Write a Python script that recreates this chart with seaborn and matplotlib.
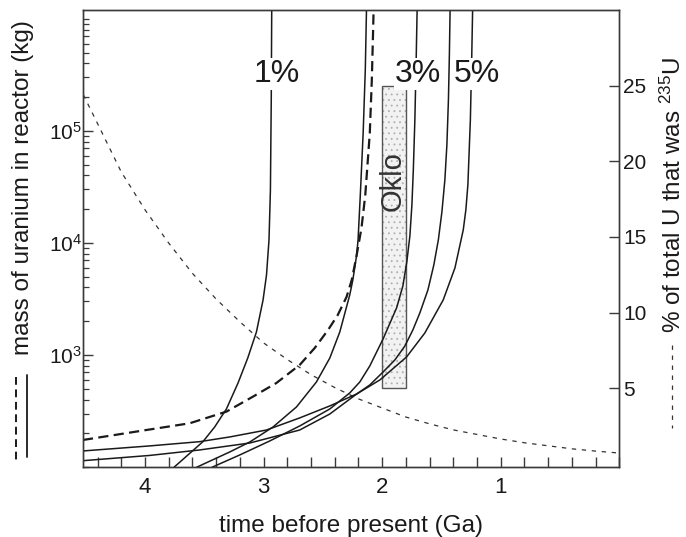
import matplotlib
matplotlib.use("Agg")
import numpy as np
import pandas as pd
import seaborn as sns
import matplotlib.pyplot as plt
from matplotlib.ticker import FixedLocator, MultipleLocator, LogLocator, NullFormatter
from matplotlib.lines import Line2D

# ---------------- data ----------------
# time before present (Ga) and log10 of uranium mass in reactor (kg)
t_1pct = [3.775, 3.749, 3.623, 3.511, 3.412, 3.313, 3.215, 3.133, 3.060, 3.004, 2.975,
          2.954, 2.942, 2.935, 2.931, 2.929]
logm_1pct = [1.973, 2.003, 2.121, 2.226, 2.357, 2.518, 2.750, 2.973, 3.205, 3.491, 3.714,
             4.027, 4.473, 5.277, 6.080, 6.348]

t_A = [3.623, 3.553, 3.285, 3.116, 2.920, 2.722, 2.554, 2.441, 2.357, 2.273, 2.247, 2.216,
       2.203, 2.184, 2.160, 2.142, 2.132, 2.128]
logm_A = [1.964, 2.003, 2.134, 2.223, 2.357, 2.536, 2.759, 2.973, 3.205, 3.536, 3.670, 3.884,
          4.027, 4.429, 4.982, 5.545, 6.080, 6.438]

t_dashed = [4.523, 3.988, 3.623, 3.313, 3.089, 2.891, 2.695, 2.568, 2.456, 2.374, 2.300,
            2.256, 2.216, 2.174, 2.142, 2.104, 2.087, 2.076, 2.070]
logm_dashed = [2.241, 2.330, 2.390, 2.494, 2.628, 2.750, 2.911, 3.0625, 3.223, 3.357, 3.518,
               3.670, 3.884, 4.134, 4.429, 4.982, 5.455, 5.902, 6.170]

t_B = [3.496, 3.429, 3.201, 2.948, 2.695, 2.441, 2.273, 2.188, 2.104, 1.992, 1.878, 1.825,
       1.792, 1.766, 1.749, 1.737, 1.724, 1.713, 1.705, 1.702]
logm_B = [1.955, 2.000, 2.107, 2.232, 2.366, 2.518, 2.661, 2.759, 2.902, 3.143, 3.420, 3.616,
          3.830, 4.0625, 4.339, 4.652, 5.098, 5.634, 6.080, 6.438]

t_C = [4.523, 3.960, 3.538, 3.116, 2.695, 2.441, 2.214, 2.104, 1.992, 1.893, 1.808, 1.741,
       1.682, 1.614, 1.564, 1.526, 1.496, 1.471, 1.454, 1.441, 1.433, 1.427, 1.424]
logm_C = [2.056, 2.103, 2.152, 2.214, 2.330, 2.473, 2.652, 2.732, 2.848, 2.955, 3.080, 3.223,
          3.375, 3.580, 3.804, 4.027, 4.277, 4.5625, 4.875, 5.277, 5.679, 6.080, 6.438]

t_D = [4.523, 3.960, 3.538, 3.285, 2.975, 2.695, 2.441, 2.214, 2.019, 1.794, 1.640, 1.485,
       1.386, 1.316, 1.294, 1.277, 1.256, 1.245, 1.237, 1.235]
logm_D = [2.143, 2.188, 2.226, 2.268, 2.330, 2.438, 2.545, 2.652, 2.777, 2.982, 3.196, 3.491,
          3.777, 4.116, 4.295, 4.518, 5.098, 5.634, 6.080, 6.438]

# % of total U that was 235U (right axis)
t_pct = [4.52, 4.4, 4.2, 4.0, 3.8, 3.6, 3.4, 3.2, 3.0, 2.8, 2.6, 2.4, 2.2, 2.0,
         1.8, 1.6, 1.4, 1.2, 1.0, 0.8, 0.6, 0.4, 0.2, 0.0]
pct_235 = [24.4, 22.5, 19.3, 16.8, 14.6, 12.6, 10.9, 9.4, 8.0, 6.9, 5.9, 5.05, 4.3, 3.7,
           3.1, 2.65, 2.25, 1.95, 1.65, 1.4, 1.2, 1.0, 0.85, 0.72]

# Oklo box (time range, % range)
oklo_t = [1.8, 2.0]
oklo_pct = [5.0, 25.0]

# curve labels
label_text = ["1%", "3%", "5%"]
label_t = [2.889, 1.699, 1.202]
label_m = [2.74e5, 2.74e5, 2.74e5]

x_ticks = [4, 3, 2, 1]
y_ticks = [1e3, 1e4, 1e5]
y_ticklabels = ["$10^3$", "$10^4$", "$10^5$"]
pct_ticks = [5, 10, 15, 20, 25]

# ---------------- style ----------------
sns.set_theme(style="white")
plt.rcParams["font.family"] = ["Liberation Sans", "DejaVu Sans"]
plt.rcParams["mathtext.fontset"] = "custom"
plt.rcParams["mathtext.rm"] = "Liberation Sans"
plt.rcParams["mathtext.it"] = "Liberation Sans:italic"
plt.rcParams["hatch.linewidth"] = 0.6

INK = "#1a1a1a"
EDGE = "#3a3a3a"

fig = plt.figure(figsize=(6.86, 5.37), dpi=100)
ax = fig.add_axes([0.1214, 0.1304, 0.7814, 0.8510])
ax2 = ax.twinx()
ax.set_zorder(ax2.get_zorder() + 1)
ax.patch.set_visible(False)

ax.set_yscale("log")

# right axis: 235U fraction + Oklo box
sns.lineplot(x=t_pct, y=pct_235, ax=ax2, color="#333333", linewidth=0.9,
             sort=False, estimator=None)
ax2.lines[-1].set_linestyle((0, (3.5, 4.5)))

ok_x = float(np.mean(oklo_t))
ok_w = oklo_t[1] - oklo_t[0]
ax2.bar(ok_x, oklo_pct[1] - oklo_pct[0], width=ok_w, bottom=oklo_pct[0],
        color="#f2f2f2", hatch="...", edgecolor="#b0b0b0", linewidth=0, zorder=2)
ax2.bar(ok_x, oklo_pct[1] - oklo_pct[0], width=ok_w, bottom=oklo_pct[0],
        fill=False, edgecolor="#555555", linewidth=1.0, zorder=3)
ax2.text(ok_x + 0.01, 18.7, "Oklo", rotation=90, ha="center", va="center",
         fontsize=21, color="#333333", zorder=5)

# left axis: mass curves
for tt, lm in [(t_1pct, logm_1pct), (t_A, logm_A), (t_B, logm_B), (t_C, logm_C), (t_D, logm_D)]:
    sns.lineplot(x=tt, y=10 ** np.asarray(lm), ax=ax, color=INK, linewidth=1.1,
                 sort=False, estimator=None)
sns.lineplot(x=t_dashed, y=10 ** np.asarray(logm_dashed), ax=ax, color=INK, linewidth=1.6,
             sort=False, estimator=None)
ax.lines[-1].set_linestyle((0, (4.6, 2.4)))

for txt, tx, my in zip(label_text, label_t, label_m):
    ax.text(tx, my, txt, fontsize=23, ha="center", va="baseline", color=INK,
            bbox=dict(facecolor="white", edgecolor="none", pad=0.6), zorder=6)

# limits
ax.set_xlim(4.52, 0)
ax.set_ylim(100, 1.2e6)
ax2.set_ylim(-0.2, 30)

# ticks
ax.xaxis.set_major_locator(FixedLocator(x_ticks))
ax.xaxis.set_minor_locator(MultipleLocator(0.2))
ax.set_xticklabels([str(v) for v in x_ticks])
ax.yaxis.set_major_locator(FixedLocator(y_ticks))
ax.set_yticklabels(y_ticklabels)
ax.yaxis.set_minor_locator(LogLocator(base=10, subs=np.arange(1, 10), numticks=20))
ax.yaxis.set_minor_formatter(NullFormatter())

ax.tick_params(axis="x", which="both", direction="in", length=7, width=1, color=EDGE,
               bottom=True, top=False, labelsize=16, pad=7, labelcolor=INK)
ax.tick_params(axis="y", which="major", direction="in", length=7, width=1, color=EDGE,
               left=True, right=False, labelsize=15, pad=1, labelcolor=INK)
ax.tick_params(axis="y", which="minor", direction="in", length=4.5, width=0.9, color=EDGE,
               left=True, right=False)

ax2.yaxis.set_major_locator(FixedLocator(pct_ticks))
ax2.tick_params(axis="y", which="major", direction="in", length=7, width=1, color=EDGE,
                left=False, right=True, labelsize=15, pad=3, labelcolor=INK)
ax2.grid(False)
ax.grid(False)

for a in (ax, ax2):
    for s in a.spines.values():
        s.set_color(EDGE)
        s.set_linewidth(1.0)

# axis labels
ax.set_xlabel("time before present (Ga)", fontsize=17.5, color=INK)
ax.xaxis.set_label_coords(0.5, -0.104)
ax.set_ylabel("mass of uranium in reactor (kg)", fontsize=17.5, color=INK)
ax.yaxis.label.set_va("center")
ax.yaxis.set_label_coords(-0.1125, 0.6105)
ax2.set_ylabel("% of total U that was $^{235}$U", fontsize=17.5, color=INK, rotation=90)
ax2.yaxis.label.set_va("center")
ax2.yaxis.set_label_coords(1.100, 0.595)

# legend keys beside the axis labels
fig.add_artist(Line2D([16 / 686, 16 / 686], [1 - 377 / 537, 1 - 460 / 537],
                      transform=fig.transFigure, color=INK, lw=1.4, ls=(0, (4.0, 2.4))))
fig.add_artist(Line2D([27 / 686, 27 / 686], [1 - 375 / 537, 1 - 457 / 537],
                      transform=fig.transFigure, color=INK, lw=1.3))
fig.add_artist(Line2D([672 / 686, 672 / 686], [1 - 345 / 537, 1 - 428 / 537],
                      transform=fig.transFigure, color="#333333", lw=0.9, ls=(0, (3.5, 4.5))))

fig.savefig("out.png", dpi=100)
